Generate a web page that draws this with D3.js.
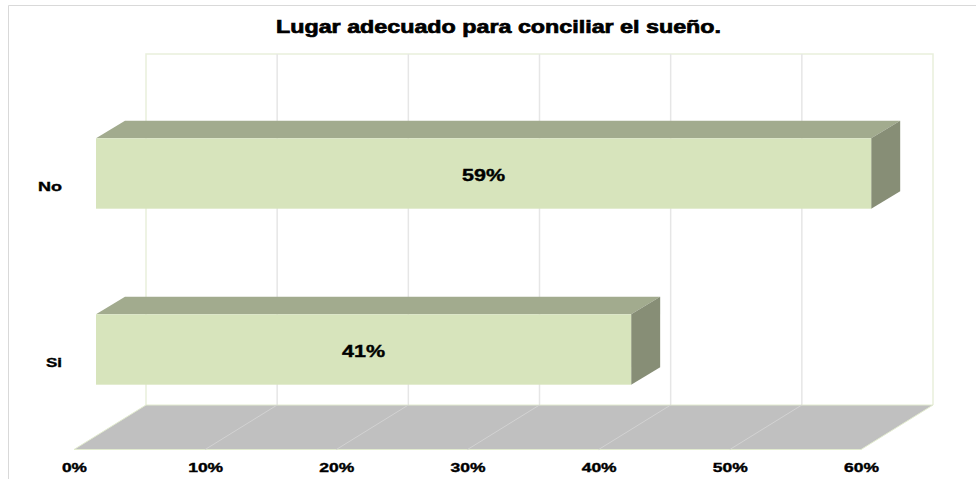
<!DOCTYPE html>
<html>
<head>
<meta charset="utf-8">
<script src="https://cdn.jsdelivr.net/npm/d3@7"></script>
<style>
  html, body { margin: 0; padding: 0; background: #fff; }
  svg { display: block; }
  text { font-family: "Liberation Sans", Arial, sans-serif; font-weight: bold; fill: #000; stroke: #000; stroke-width: 0.4px; }
</style>
</head>
<body>
<div id="chart"></div>
<script>
// data
var titleText = "Lugar adecuado para conciliar el sueño.";
var categories = ["No", "Si"];
var values = [59.1, 40.8];
var valueLabels = ["59%", "41%"];
var ticks = [0, 10, 20, 30, 40, 50, 60];

var width = 976, height = 479;

// front edge of the floor, and how far the back wall is shifted from it
var margin = {left: 74, right: 115, top: 54, bottom: 30};
var depthX = 72, depthY = 44.5;
var barDepthX = 29, barDepthY = 17.5;
var barOffset = 22; // bars stand part way into the floor

var floorFront = height - margin.bottom + 0.5;
var floorBack = floorFront - depthY;

var x = d3.scaleLinear().domain([0, 60]).range([margin.left, width - margin.right]);
var y = d3.scaleBand().domain(categories)
    .range([85.5, 437.5])
    .paddingInner(0.6).paddingOuter(0.3);

var svg = d3.select("#chart").append("svg")
    .attr("width", width)
    .attr("height", height);

// the reference text is Arial pulled wide, so stretch it to the measured width
function stretch(sel, w) {
  sel.attr("textLength", w).attr("lengthAdjust", "spacingAndGlyphs");
}

// outer chart border
svg.append("path")
    .attr("d", "M8.5," + height + "V5.5H" + width)
    .attr("fill", "none")
    .attr("stroke", "#d9d9d9");

// back wall frame
svg.append("path")
    .attr("d", "M" + (x(0) + depthX) + "," + floorBack + "V" + margin.top + "H" + (x(60) + depthX) + "V" + floorBack)
    .attr("fill", "none")
    .attr("stroke", "#e9efdc")
    .attr("stroke-width", 1.5);

// gridlines on the wall
svg.append("g").selectAll("line")
    .data(ticks.slice(1, -1))
    .join("line")
    .attr("x1", function(d) { return x(d) + depthX; })
    .attr("x2", function(d) { return x(d) + depthX; })
    .attr("y1", margin.top)
    .attr("y2", floorBack)
    .attr("stroke", "#e6e6e6")
    .attr("stroke-width", 1.5);

// floor
svg.append("polygon")
    .attr("points", [
      [x(0), floorFront], [x(60), floorFront],
      [x(60) + depthX, floorBack], [x(0) + depthX, floorBack]
    ].join(" "))
    .attr("fill", "#c0c0c0")
    .attr("stroke", "#e2ebcf");

// gridlines on the floor
svg.append("g").selectAll("line")
    .data(ticks.slice(1, -1))
    .join("line")
    .attr("x1", function(d) { return x(d); })
    .attr("x2", function(d) { return x(d) + depthX; })
    .attr("y1", floorFront)
    .attr("y2", floorBack)
    .attr("stroke", "#d2d2d2");

// bars: top, side, then front
var bars = svg.append("g").selectAll("g")
    .data(categories)
    .join("g");

function barLeft() { return x(0) + barOffset; }
function barRight(i) { return x(values[i]) + barOffset; }

bars.append("polygon")
    .attr("points", function(d, i) {
      var t = y(d);
      return [
        [barLeft(), t], [barRight(i), t],
        [barRight(i) + barDepthX, t - barDepthY], [barLeft() + barDepthX, t - barDepthY]
      ].join(" ");
    })
    .attr("fill", "#a2ab8e");

bars.append("polygon")
    .attr("points", function(d, i) {
      var t = y(d), b = t + y.bandwidth();
      return [
        [barRight(i), t], [barRight(i) + barDepthX, t - barDepthY],
        [barRight(i) + barDepthX, b - barDepthY], [barRight(i), b]
      ].join(" ");
    })
    .attr("fill", "#878e76");

bars.append("rect")
    .attr("x", barLeft())
    .attr("y", function(d) { return y(d); })
    .attr("width", function(d, i) { return barRight(i) - barLeft(); })
    .attr("height", y.bandwidth())
    .attr("fill", "#d7e4bc");

// value labels
bars.append("text")
    .attr("x", function(d, i) { return (barLeft() + barRight(i)) / 2; })
    .attr("y", function(d) { return y(d) + y.bandwidth() / 2 + 7; })
    .attr("text-anchor", "middle")
    .style("font-size", "17px")
    .text(function(d, i) { return valueLabels[i]; })
    .call(stretch, 43);

// x axis
var xAxis = svg.append("g")
    .attr("transform", "translate(0," + (floorFront + 10) + ")")
    .call(d3.axisBottom(x).tickValues(ticks).tickFormat(function(d) { return d + "%"; }).tickSize(0));
xAxis.select(".domain").remove();
xAxis.selectAll("text")
    .style("font-family", '"Liberation Sans", Arial, sans-serif')
    .style("font-size", "13.5px")
    .each(function(d) { stretch(d3.select(this), d === 0 ? 25 : 35); });

// category labels
svg.append("g").selectAll("text")
    .data(categories)
    .join("text")
    .attr("x", 62)
    .attr("y", function(d) { return y(d) + y.bandwidth() / 2 + 13; })
    .attr("dy", "0.35em")
    .attr("text-anchor", "end")
    .style("font-size", "13.5px")
    .text(function(d) { return d; })
    .each(function(d) { stretch(d3.select(this), d === "No" ? 24 : 16); });

// title
svg.append("text")
    .attr("x", 498.5)
    .attr("y", 33)
    .attr("text-anchor", "middle")
    .style("font-size", "19px")
    .style("stroke-width", "0.7px")
    .text(titleText)
    .call(stretch, 445);
</script>
</body>
</html>
